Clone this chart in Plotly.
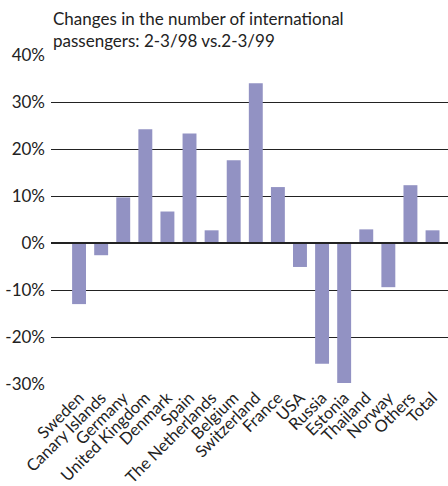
import plotly.graph_objects as go

# Change in international passengers, Feb-Mar 1998 vs Feb-Mar 1999 (%)
countries = ["Sweden", "Canary Islands", "Germany", "United Kingdom", "Denmark",
             "Spain", "The Netherlands", "Belgium", "Switzerland", "France",
             "USA", "Russia", "Estonia", "Thailand", "Norway", "Others", "Total"]
changes = [-13.0, -2.6, 9.7, 24.2, 6.7, 23.3, 2.7, 17.6, 34.0, 11.9,
           -5.1, -25.7, -29.8, 2.9, -9.4, 12.3, 2.7]

tick_vals = [-30, -20, -10, 0, 10, 20, 30, 40]
tick_text = ["-30%", "-20%", "-10%", "0%", "10%", "20%", "30%", "40%"]

title_text = "Changes in the number of international<br>passengers: 2-3/98 vs.2-3/99"

FONT = "Lato"
BAR = "#9292C3"
LINE = "#222222"

fig = go.Figure(go.Bar(x=countries, y=changes, marker_color=BAR,
                       marker_line_width=0))

fig.update_layout(
    width=448, height=486,
    margin=dict(l=51, r=0, t=55, b=102),
    paper_bgcolor="white", plot_bgcolor="white",
    bargap=0.37,
    showlegend=False,
    font=dict(family=FONT, size=15, color="#222222"),
    annotations=[dict(text=title_text, xref="paper", yref="paper",
                      x=0, y=1, xanchor="left", yanchor="bottom",
                      yshift=2, align="left", showarrow=False,
                      font=dict(family=FONT, size=17, color="#222222"))],
    shapes=[dict(type="line", xref="paper", yref="y", x0=0, x1=1, y0=0, y1=0,
                 line=dict(color=LINE, width=2), layer="above")],
)

fig.update_xaxes(range=[-1.27, 16.7], tickangle=-45, showgrid=False,
                 showline=False, ticks="", automargin=False,
                 tickfont=dict(family=FONT, size=16.5, color="#222222"))
fig.update_yaxes(range=[-30, 40], tickvals=tick_vals, ticktext=tick_text,
                 showgrid=True, gridcolor=LINE, gridwidth=1.3,
                 zeroline=False, showline=False, ticks="", automargin=False,
                 ticklabelstandoff=5,
                 tickfont=dict(family=FONT, size=17, color="#222222"))

fig.write_html("out.html")
